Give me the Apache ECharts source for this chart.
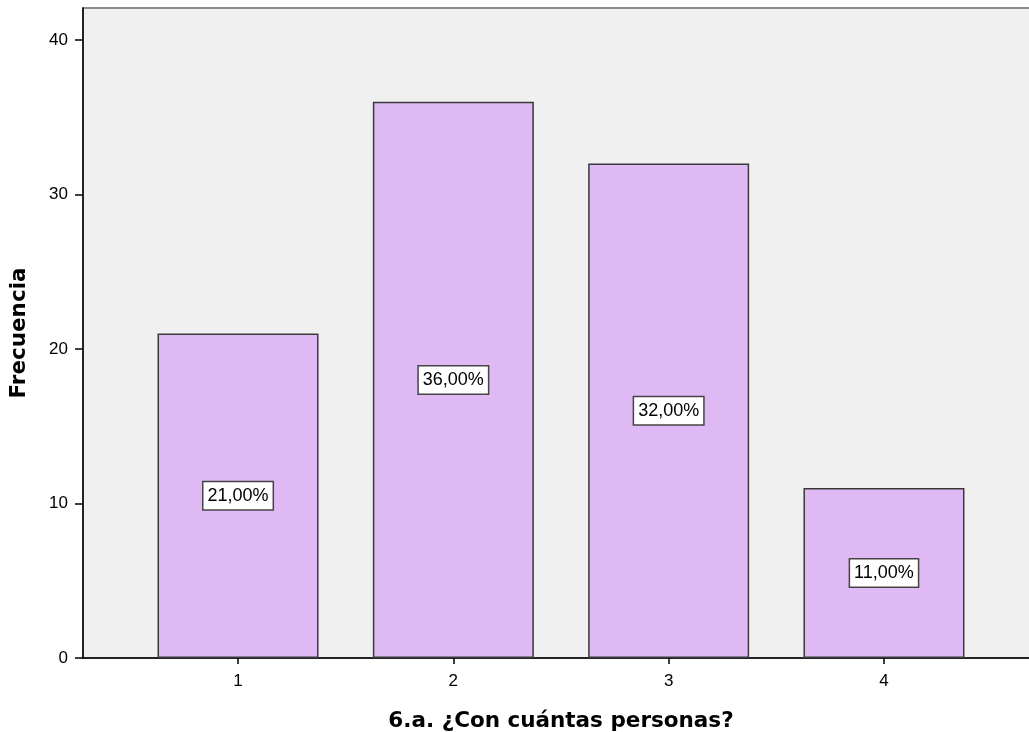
<!DOCTYPE html>
<html>
<head>
<meta charset="utf-8">
<script src="https://cdn.jsdelivr.net/npm/echarts@6/dist/echarts.min.js"></script>
<style>
  html, body { margin: 0; padding: 0; background: #fff; overflow: hidden; }
  #frame { width: 1029px; height: 732px; overflow: hidden; position: relative; }
  #chart { width: 1039px; height: 732px; position: absolute; left: 0; top: 0; }
</style>
</head>
<body>
<div id="frame"><div id="chart"></div></div>
<script>
// Number of people (6.a.) and how often each answer was given
const categories = [1, 2, 3, 4];
const frequencies = [21, 36, 32, 11];
const yTicks = [0, 10, 20, 30, 40];
const xTitle = '6.a. ¿Con cuántas personas?';
const yTitle = 'Frecuencia';

const total = frequencies.reduce((a, b) => a + b, 0);
const pctText = v => (v / total * 100).toFixed(2).replace('.', ',') + '%';

const chart = echarts.init(document.getElementById('chart'), null, { renderer: 'canvas' });

const tickFont = { fontFamily: 'Liberation Sans, Arial, sans-serif', fontSize: 17, color: '#000' };
const titleFont = { fontFamily: 'DejaVu Sans, Verdana, sans-serif', fontSize: 21.5, fontWeight: 'bold', color: '#000' };

chart.setOption({
  animation: false,
  grid: {
    left: 83, right: 0, top: 8, bottom: 74,
    outerBoundsMode: 'none',
    containLabel: false,
    show: true,
    backgroundColor: '#f0f0f0',
    borderColor: '#8c8c8c',
    borderWidth: 2
  },
  xAxis: {
    type: 'value',
    min: 0.28,
    max: 4.72,
    name: xTitle,
    nameLocation: 'middle',
    nameGap: 52,
    nameTextStyle: titleFont,
    axisLine: { show: true, lineStyle: { color: '#000', width: 1.5 } },
    axisTick: { show: true, length: 6, customValues: categories, lineStyle: { color: '#000', width: 1.5 } },
    axisLabel: Object.assign({ customValues: categories, margin: 15 }, tickFont),
    splitLine: { show: false }
  },
  yAxis: {
    type: 'value',
    min: 0,
    max: 42.07,
    name: yTitle,
    nameLocation: 'middle',
    nameGap: 53,
    nameRotate: 90,
    nameTextStyle: titleFont,
    axisLine: { show: true, lineStyle: { color: '#000', width: 1.5 } },
    axisTick: { show: true, length: 8, customValues: yTicks, lineStyle: { color: '#000', width: 1.5 } },
    axisLabel: Object.assign({ customValues: yTicks, margin: 15 }, tickFont),
    splitLine: { show: false }
  },
  series: [{
    type: 'bar',
    barWidth: 161,
    data: categories.map((c, i) => [c, frequencies[i]]),
    itemStyle: { color: '#dfb9f3', borderColor: '#3a3a3a', borderWidth: 1.5 },
    label: {
      show: true,
      position: 'inside',
      formatter: p => pctText(p.value[1]),
      fontFamily: 'Liberation Sans, Arial, sans-serif',
      fontSize: 18,
      color: '#000',
      backgroundColor: '#fff',
      borderColor: '#444',
      borderWidth: 1.5,
      padding: [5, 4, 4, 4]
    }
  }]
});
</script>
</body>
</html>
